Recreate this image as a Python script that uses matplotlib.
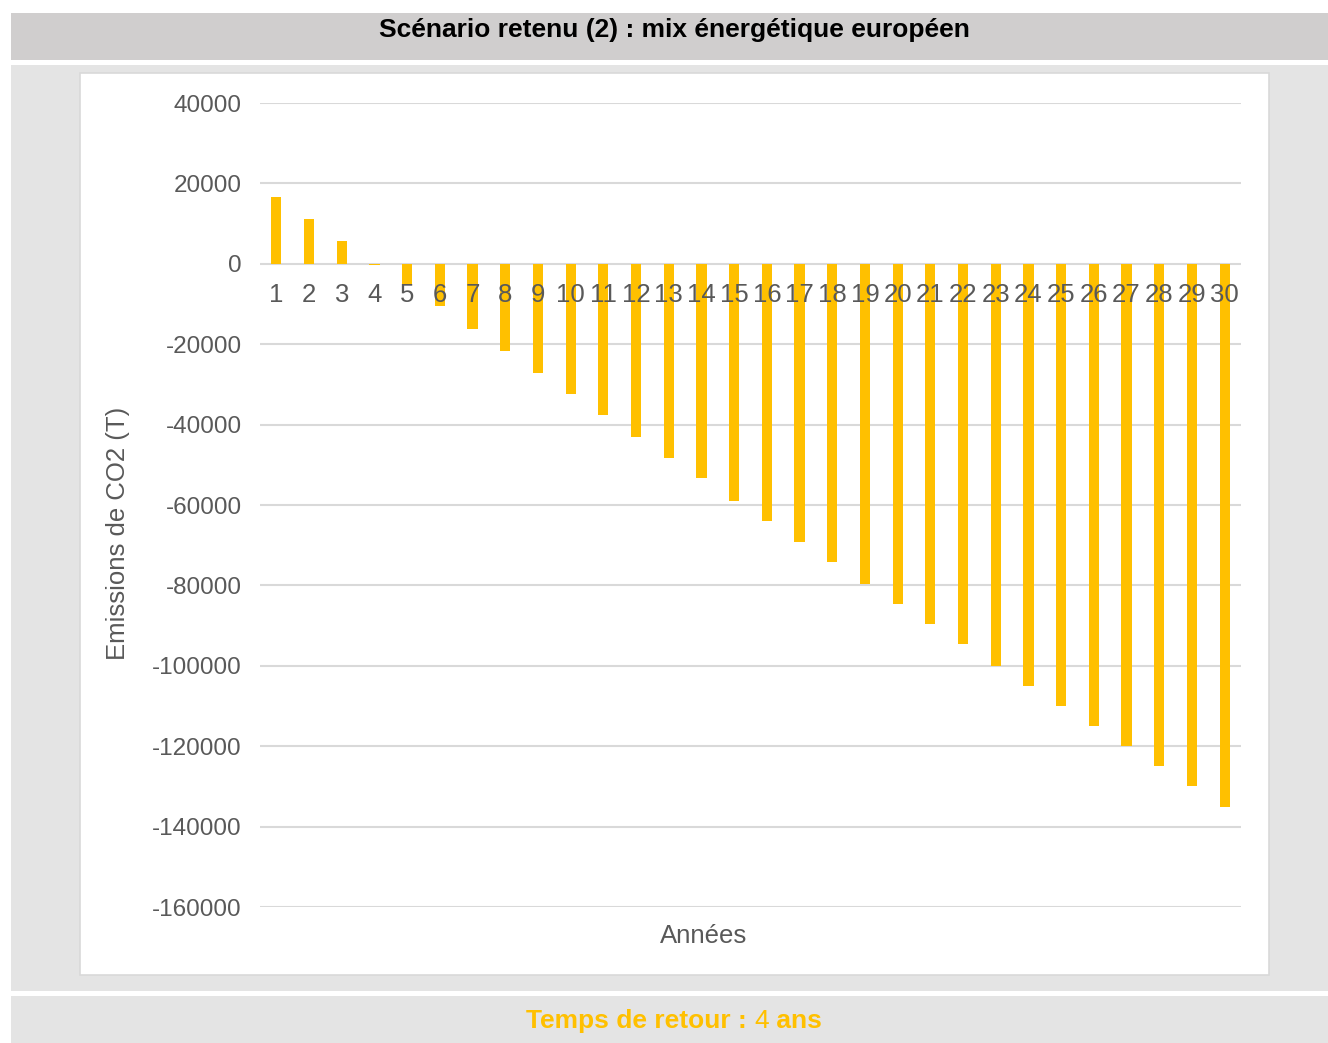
import matplotlib
matplotlib.use('Agg')
import matplotlib.pyplot as plt
from matplotlib.patches import Rectangle

plt.rcParams['font.family'] = ['Liberation Sans', 'DejaVu Sans']

# Emissions cumulées de CO2 (T) par année
annees = list(range(1, 31))
emissions = [16700, 11200, 5700, -200, -5100, -10600, -16100, -21600, -27100, -32500,
             -37500, -43000, -48400, -53400, -58900, -63900, -69300, -74300, -79700, -84700,
             -89700, -94600, -100100, -105100, -110000, -115000, -120000, -125000, -129900, -135000]
yticks = [40000, 20000, 0, -20000, -40000, -60000, -80000, -100000, -120000, -140000, -160000]

titre = "Scénario retenu (2) : mix énergétique européen"
pied = [("Temps de retour : ", 'bold'), ("4", 'normal'), (" ans", 'bold')]

W, H = 1328, 1043
fig = plt.figure(figsize=(W / 100, H / 100), dpi=100)
fig.patch.set_facecolor('white')

def box(x0, y0, x1, y1, **kw):
    # rectangle en pixels (origine en haut à gauche), derrière les axes
    fig.patches.append(Rectangle((x0 / W, 1 - y1 / H), (x1 - x0) / W, (y1 - y0) / H,
                                 transform=fig.transFigure, figure=fig, zorder=-5, **kw))

box(11, 13, W, 60, facecolor='#d0cece', edgecolor='none')
box(11, 65, W, 991, facecolor='#e4e4e4', edgecolor='none')
box(80, 73, 1269, 975, facecolor='white', edgecolor='#d9d9d9', linewidth=1.2)
box(11, 996, W, H, facecolor='#e4e4e4', edgecolor='none')

fig.text(674 / W, 1 - 30 / H, titre, ha='center', va='center',
         fontsize=19, fontweight='bold', color='black')

# zone de tracé
ax = fig.add_axes([260 / W, 1 - 907 / H, (1241 - 260) / W, (907 - 103) / H])
ax.set_zorder(2)
ax.set_facecolor('none')
ax.set_ylim(-160000, 40000)
ax.set_xlim(0.5, 30.5)
ax.set_yticks(yticks)
ax.set_yticklabels([str(v) for v in yticks])
ax.yaxis.grid(True, color='#d9d9d9', linewidth=1.5)
ax.set_axisbelow(True)
ax.tick_params(axis='y', length=0, pad=13, labelsize=17.5, labelcolor='#595959')
ax.set_xticks([])
for s in ax.spines.values():
    s.set_visible(False)

ax.bar(annees, emissions, width=0.31, color='#ffc000', zorder=3)

# étiquettes des années sous la ligne du zéro
for a in annees:
    ax.annotate(str(a), (a, 0), xytext=(0, -22.5), textcoords='offset points',
                ha='center', va='center', fontsize=18.5, color='#595959', zorder=4)

fig.text(118 / W, 1 - 533 / H, "Emissions de CO2 (T)", rotation=90, ha='center', va='center',
         fontsize=18.5, color='#595959')
fig.text(704 / W, 1 - 936 / H, "Années", ha='center', va='center',
         fontsize=18.5, color='#595959')

# pied de page avec graisses mélangées, sur une même ligne de base
fig.canvas.draw()
r = fig.canvas.get_renderer()
morceaux = []
for txt, w in pied:
    t = fig.text(0, 1 - 1028 / H, txt, ha='left', va='baseline', fontsize=19,
                 fontweight=w, color='#ffc000')
    morceaux.append(t)
largeurs = [t.get_window_extent(r).width for t in morceaux]
x = 674 - sum(largeurs) / 2
for t, lw in zip(morceaux, largeurs):
    t.set_x(x / W)
    x += lw

fig.savefig('out.png', dpi=100)
